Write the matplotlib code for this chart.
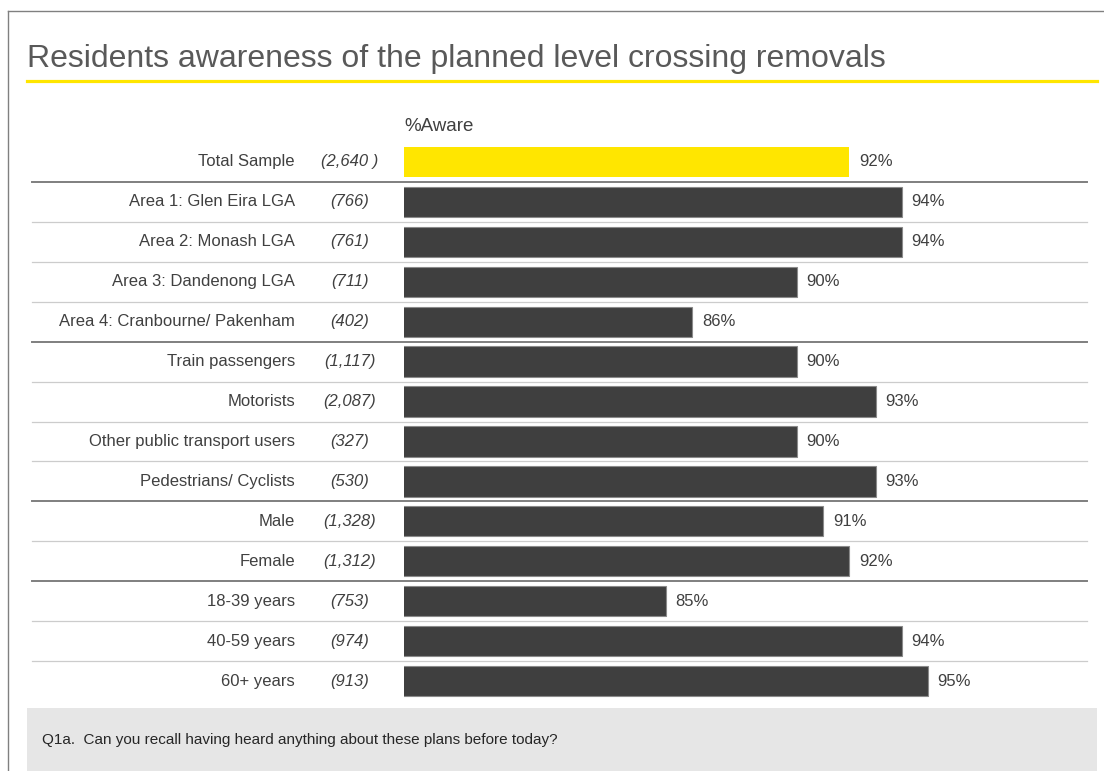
import matplotlib
matplotlib.use('Agg')
import matplotlib.pyplot as plt
import matplotlib.transforms as mtransforms
import numpy as np

plt.rcParams['font.family'] = ['Liberation Sans', 'DejaVu Sans']

# ===== Data =====
segments = [
    'Total Sample',
    'Area 1: Glen Eira LGA',
    'Area 2: Monash LGA',
    'Area 3: Dandenong LGA',
    'Area 4: Cranbourne/ Pakenham',
    'Train passengers',
    'Motorists',
    'Other public transport users',
    'Pedestrians/ Cyclists',
    'Male',
    'Female',
    '18-39 years',
    '40-59 years',
    '60+ years',
]
base_sizes = ['(2,640 )', '(766)', '(761)', '(711)', '(402)', '(1,117)', '(2,087)',
              '(327)', '(530)', '(1,328)', '(1,312)', '(753)', '(974)', '(913)']
pct_aware = [92, 94, 94, 90, 86, 90, 93, 90, 93, 91, 92, 85, 94, 95]
group_ends = [0, 4, 8, 10]   # heavier rule below these rows

C_DARK = '#3f3f3f'
C_YELLOW = '#FFE600'
C_TEXT = '#404040'
C_RULE = '#7f7f7f'
C_THIN = '#cccccc'

W, H = 1104, 771
fig = plt.figure(figsize=(W / 100, H / 100), dpi=100)

# outer frame (top + left)
fig.add_artist(plt.Line2D([8 / W, 1.0], [1 - 11 / H, 1 - 11 / H], color='#808080', lw=1))
fig.add_artist(plt.Line2D([8 / W, 8 / W], [0, 1 - 11 / H], color='#808080', lw=1))

# title + yellow underline
fig.text(27 / W, 1 - 67 / H, 'Residents awareness of the planned level crossing removals',
         fontsize=23, color='#595959', va='baseline', ha='left')
fig.add_artist(plt.Line2D([27 / W, 1097 / W], [1 - 81 / H, 1 - 81 / H], color=C_YELLOW, lw=2.3))

# footer box
fig.add_artist(plt.Rectangle((27 / W, 0), 1070 / W, (H - 708) / H, facecolor='#e6e6e6',
                             edgecolor='none', transform=fig.transFigure))
fig.text(42 / W, (H - 740) / H, 'Q1a.  Can you recall having heard anything about these plans before today?',
         fontsize=11, color='#262626', va='center', ha='left')

# ===== Bars =====
ax_left, ax_right = 404, 1087
ax_top, ax_bot = 142, 701
ax = fig.add_axes([ax_left / W, (H - ax_bot) / H, (ax_right - ax_left) / W, (ax_bot - ax_top) / H])

y = np.arange(len(segments))
colors = [C_YELLOW] + [C_DARK] * (len(segments) - 1)
edges = ['none'] + ['#8a8a8a'] * (len(segments) - 1)
ax.barh(y, pct_aware, height=0.76, color=colors, edgecolor=edges, linewidth=0.8)
ax.set_xlim(75, 75 + (ax_right - ax_left) / 26.2)
ax.set_ylim(len(segments) - 0.5, -0.5)
ax.axis('off')

for yi, v in zip(y, pct_aware):
    ax.annotate(f'{v}%', (v, yi), xytext=(7, 0), textcoords='offset points',
                ha='left', va='center', fontsize=12, color=C_TEXT)

trans = mtransforms.blended_transform_factory(ax.transAxes, ax.transData)
x_lab = (295 - ax_left) / (ax_right - ax_left)
x_n = (350 - ax_left) / (ax_right - ax_left)
x_rule0 = (32 - ax_left) / (ax_right - ax_left)
for yi, name, n in zip(y, segments, base_sizes):
    ax.text(x_lab, yi, name, transform=trans, ha='right', va='center', fontsize=12, color=C_TEXT)
    ax.text(x_n, yi, n, transform=trans, ha='center', va='center', fontsize=12,
            color=C_TEXT, style='italic')

# row rules
for i in range(len(segments) - 1):
    heavy = i in group_ends
    ax.plot([x_rule0, 1.0], [i + 0.5, i + 0.5], transform=trans, clip_on=False,
            color=C_RULE if heavy else C_THIN, lw=1.4 if heavy else 0.9, zorder=0)

ax.text(0.0, -0.5 - 0.4, '%Aware', transform=trans, ha='left', va='center',
        fontsize=13.5, color=C_TEXT)

fig.savefig('out.png', dpi=100)
